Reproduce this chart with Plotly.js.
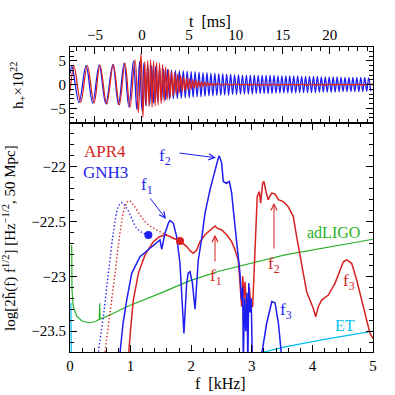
<!DOCTYPE html>
<html><head><meta charset="utf-8">
<script src="https://cdn.plot.ly/plotly-3.0.1.min.js"></script>
<style>html,body{margin:0;padding:0;background:#fff}#plot{width:395px;height:395px}</style>
</head><body><div id="plot"></div>
<script>
// ---- top panel: strain extrema (t in ms, h+ x 1e22) ----
const apr4_t = [-7.66,-7.23,-6.52,-5.82,-5.10,-4.47,-3.76,-3.05,-2.41,-1.81,-1.28,-0.74,-0.39,-0.10,0.10,
 0.30,0.45,0.60,0.76,0.92,1.08,1.24,1.40,1.56,1.72,1.88,2.04,2.20,2.36,2.52,2.68,2.84,3.00,3.16,3.32,3.48,3.64,3.80,3.96,4.12,4.28,4.44,4.60,4.76,4.92,5.08,5.24,5.40,5.56,5.72,5.88,6.04,6.20,6.36,6.52,6.68,6.84,7.00,7.16,7.32,7.48,7.64,7.80,8.00,
 8.5,9.0,9.5,10.0,10.5,11.0,11.5,12.0,12.5,13.0,13.5,14.0,14.5,15.0,15.5,16.0,16.5,17.0,17.5,18.0,18.5,19.0,19.5,20.0,20.5,21.0,21.5,22.0,22.5,23.0,23.5,24.0,24.6];
const apr4_h = [-1.5,3.8,-3.7,4.0,-3.9,4.1,-4.1,4.2,-4.3,4.5,-4.8,5.2,-5.9,6.6,-6.9,
 4.8,-4.5,5.0,-4.6,5.2,-4.8,4.9,-4.5,4.6,-4.3,4.5,-4.0,4.2,-3.6,3.7,-3.2,3.2,-2.8,2.8,-2.4,2.5,-2.1,2.2,-1.8,1.9,-1.5,1.6,-1.3,1.4,-1.1,1.2,-0.9,1.0,-0.8,0.85,-0.6,0.7,-0.5,0.55,-0.4,0.45,-0.3,0.4,-0.25,0.3,-0.2,0.25,-0.15,0.2,
 -0.12,0.12,-0.12,0.12,-0.1,0.1,-0.1,0.1,-0.1,0.1,-0.1,0.1,-0.1,0.1,-0.1,0.1,-0.1,0.1,-0.1,0.1,-0.1,0.1,-0.1,0.1,-0.1,0.1,-0.1,0.1,-0.1,0.1,-0.1,0.1,0.0];
const gnh3_t = [-7.66,-7.45,-6.70,-5.95,-5.25,-4.55,-3.85,-3.10,-2.50,-1.90,-1.40,-0.90,-0.55,-0.25,0.00,
 0.20,0.41,0.62,0.83,1.04,1.25,1.46,1.67,1.88,2.09,2.30,2.51,2.72,2.93,3.14,3.35,3.56,3.77,3.98,4.19,4.40,4.61,4.82,5.03,5.24,5.45,5.66,5.87,6.08,6.29,6.50,6.71,6.92,7.13,7.34,7.55,7.76,7.97,8.18,8.39,8.60,8.81,9.02,9.23,9.44,9.65,9.86,10.07,10.28,10.49,10.70,10.91,11.12,11.33,11.54,11.75,11.96,12.17,12.38,12.59,12.80,13.01,13.22,13.43,13.64,13.85,14.06,14.27,14.48,14.69,14.90,15.11,15.32,15.53,15.74,15.95,16.16,16.37,16.58,16.79,17.00,17.21,17.42,17.63,17.84,18.05,18.26,18.47,18.68,18.89,19.10,19.31,19.52,19.73,19.94,20.15,20.36,20.57,20.78,20.99,21.20,21.41,21.62,21.83,22.04,22.25,22.46,22.67,22.88,23.09,23.30,23.51,23.72,23.93,24.14,24.35,24.56];
const gnh3_h = [2.3,3.8,-3.8,4.0,-3.9,4.1,-4.0,4.2,-4.2,4.5,-4.7,5.0,-5.2,4.8,-5.5,
 4.5,-4.4,4.3,-4.2,4.0,-3.9,3.8,-3.6,3.5,-3.4,3.3,-3.2,3.2,-3.1,3.1,-3.0,3.0,-3.0,2.9,-2.9,2.9,-2.8,2.8,-2.8,2.7,-2.7,2.7,-2.6,2.6,-2.6,2.5,-2.5,2.5,-2.4,2.4,-2.4,2.4,-2.3,2.3,-2.3,2.3,-2.2,2.2,-2.2,2.2,-2.1,2.1,-2.1,2.1,-2.0,2.0,-2.0,2.0,-2.0,2.0,-2.0,2.0,-1.9,1.9,-1.9,1.9,-1.9,1.9,-1.9,1.9,-1.9,1.9,-1.8,1.8,-1.8,1.8,-1.8,1.8,-1.8,1.8,-1.8,1.8,-1.8,1.8,-1.7,1.7,-1.7,1.7,-1.7,1.7,-1.7,1.7,-1.7,1.7,-1.6,1.6,-1.6,1.6,-1.6,1.6,-1.6,1.6,-1.6,1.6,-1.5,1.5,-1.5,1.5,-1.5,1.5,-1.5,1.5,-1.5,1.5,-1.5,1.5,-1.5,1.5,-1.4,1.4,-1.4];

// ---- bottom panel: spectra (f in kHz, log10 amplitude) ----
const gnh3_f = [0.80,0.825,0.875,0.936,1.018,1.155,1.32,1.43,1.485,1.513,1.568,1.623,1.65,1.705,1.76,1.815,1.86,1.88,1.925,1.95,1.98,2.02,2.063,2.117,2.17,2.228,2.31,2.393,2.447,2.464,2.503,2.53,2.58,2.63,2.668,2.695,2.723,2.75,2.777,2.805,2.83,2.85,2.86,2.88,2.90,2.92,2.935,2.95,2.97,2.99,3.01,3.16,3.245,3.33,3.383,3.44,3.49];
const gnh3_s = [-23.9,-23.70,-23.43,-23.216,-22.972,-22.82,-22.743,-22.698,-22.667,-22.752,-22.606,-22.515,-22.49,-22.515,-22.637,-22.88,-23.3,-23.52,-23.063,-22.97,-22.957,-23.06,-23.30,-22.85,-22.667,-22.423,-22.21,-22.027,-21.92,-21.90,-21.966,-22.134,-22.15,-22.134,-22.24,-22.393,-22.546,-22.667,-22.82,-22.972,-23.216,-23.1,-23.8,-23.2,-23.5,-23.15,-23.8,-23.06,-23.33,-23.2,-23.8,-23.72,-23.43,-23.23,-23.24,-23.43,-23.72];
const apr4_f = [0.94,0.963,1.0,1.045,1.128,1.238,1.375,1.47,1.568,1.65,1.705,1.815,1.925,1.99,2.035,2.09,2.145,2.228,2.31,2.393,2.43,2.503,2.585,2.668,2.723,2.777,2.805,2.833,2.85,2.87,2.89,2.91,2.94,2.96,2.98,3.014,3.053,3.09,3.124,3.146,3.179,3.2,3.234,3.27,3.328,3.383,3.438,3.52,3.6,3.685,3.74,3.795,3.85,3.905,3.96,4.015,4.054,4.097,4.153,4.263,4.373,4.455,4.51,4.566,4.648,4.731,4.813,4.896,4.95,5.0];
const apr4_s = [-23.9,-23.70,-23.48,-23.216,-22.972,-22.804,-22.683,-22.64,-22.62,-22.635,-22.652,-22.676,-22.728,-22.77,-22.789,-22.76,-22.683,-22.62,-22.576,-22.54,-22.56,-22.576,-22.62,-22.683,-22.76,-22.85,-23.063,-23.277,-23.0,-23.2,-23.05,-23.3,-23.277,-23.1,-23.25,-23.277,-22.76,-22.27,-22.225,-22.332,-22.149,-22.134,-22.225,-22.30,-22.24,-22.247,-22.30,-22.317,-22.363,-22.454,-22.637,-22.789,-22.972,-23.14,-23.216,-23.292,-23.368,-23.277,-23.216,-23.17,-23.063,-22.94,-22.866,-22.85,-22.88,-23.033,-23.216,-23.40,-23.52,-23.566];
const gnh3_insp_f = [0.45,0.468,0.55,0.633,0.715,0.798,0.853,0.936,1.018,1.10,1.21,1.293];
const gnh3_insp_s = [-23.85,-23.70,-23.368,-22.972,-22.606,-22.363,-22.326,-22.378,-22.469,-22.56,-22.606,-22.622];
const apr4_insp_f = [0.56,0.578,0.66,0.743,0.825,0.908,0.974,1.045,1.155,1.265,1.43,1.595,1.733,1.815];
const apr4_insp_s = [-23.85,-23.70,-23.337,-22.972,-22.606,-22.363,-22.308,-22.347,-22.439,-22.515,-22.576,-22.622,-22.661,-22.676];
const contact_f = [1.293, 1.815];
const contact_s = [-22.622, -22.676];
const ligo_f = [0.028,0.033,0.054,0.110,0.193,0.302,0.413,0.484,0.490,0.496,0.66,0.936,1.485,1.98,2.475,3.246,3.548,5.0];
const ligo_s = [-22.713,-23.124,-23.277,-23.362,-23.405,-23.423,-23.414,-23.392,-23.246,-23.39,-23.353,-23.277,-23.155,-23.039,-22.951,-22.850,-22.804,-22.661];
const et_f = [0.015,0.017,0.03,0.2,1.0,2.0,3.0,3.218,3.548,4.2,5.0];
const et_s = [-23.24,-23.9,-24.5,-24.7,-24.2,-23.95,-23.72,-23.688,-23.643,-23.575,-23.5];

const RED='rgb(214,34,34)', BLUE='rgb(30,30,240)', GREEN='rgb(40,175,40)', CYAN='rgb(0,190,240)';
const FONT='Liberation Serif';

const traces = [
 {x:ligo_f,y:ligo_s,mode:'lines',line:{color:GREEN,width:1.2},xaxis:'x',yaxis:'y'},
 {x:et_f,y:et_s,mode:'lines',line:{color:CYAN,width:1.2},xaxis:'x',yaxis:'y'},
 {x:gnh3_insp_f,y:gnh3_insp_s,mode:'lines',line:{color:BLUE,width:1.4,dash:'1.4px,2.2px',shape:'spline'},xaxis:'x',yaxis:'y'},
 {x:apr4_insp_f,y:apr4_insp_s,mode:'lines',line:{color:RED,width:1.4,dash:'1.4px,2.2px',shape:'spline'},xaxis:'x',yaxis:'y'},
 {x:apr4_f,y:apr4_s,mode:'lines',line:{color:RED,width:1.5},xaxis:'x',yaxis:'y'},
 {x:gnh3_f,y:gnh3_s,mode:'lines',line:{color:BLUE,width:1.5},xaxis:'x',yaxis:'y'},
 {x:[contact_f[0]],y:[contact_s[0]],mode:'markers',marker:{color:BLUE,size:8},xaxis:'x',yaxis:'y'},
 {x:[contact_f[1]],y:[contact_s[1]],mode:'markers',marker:{color:RED,size:8},xaxis:'x',yaxis:'y'},
 {x:gnh3_t,y:gnh3_h,mode:'lines',line:{color:BLUE,width:1.3,shape:'spline'},xaxis:'x2',yaxis:'y2'},
 {x:apr4_t,y:apr4_h,mode:'lines',line:{color:RED,width:1.3,shape:'spline'},xaxis:'x2',yaxis:'y2'}
];

const ax = {showline:true,linecolor:'black',linewidth:1,mirror:'allticks',ticks:'inside',ticklen:7,tickwidth:1,tickcolor:'black',
  showgrid:false,zeroline:false,tickfont:{family:FONT,size:15,color:'black'}};
const D = 0.7508;
const A = (o)=>Object.assign({showarrow:false,xanchor:'center',yanchor:'middle'},o);
const layout = {
 width:395,height:395,margin:{l:70,r:22,t:47,b:43},showlegend:false,paper_bgcolor:'white',plot_bgcolor:'white',
 font:{family:FONT,color:'black'},
 xaxis:Object.assign({},ax,{range:[0,5],dtick:1,tick0:0,anchor:'y',domain:[0,1],minor:{dtick:0.2,ticklen:4,ticks:'inside',tickcolor:'black'}}),
 yaxis:Object.assign({},ax,{range:[-23.69,-21.6],dtick:0.5,tick0:-22,anchor:'x',domain:[0,D],minor:{dtick:0.1,ticklen:4,ticks:'inside',tickcolor:'black'}}),
 xaxis2:Object.assign({},ax,{range:[-7.66,24.6],dtick:5,tick0:0,anchor:'y2',side:'top',domain:[0,1],minor:{dtick:1,ticklen:4,ticks:'inside',tickcolor:'black'}}),
 yaxis2:Object.assign({},ax,{range:[-8.1,7.9],dtick:5,tick0:0,anchor:'x2',domain:[D,1],minor:{dtick:1,ticklen:4,ticks:'inside',tickcolor:'black'}}),
 annotations:[
  A({xref:'paper',yref:'paper',x:0.462,y:1.085,text:'t  [ms]',font:{size:16}}),
  A({xref:'paper',yref:'paper',x:0.498,y:-0.102,text:'f  [kHz]',font:{size:16}}),
  A({xref:'paper',yref:'paper',x:-0.172,y:0.875,text:'h<sub>+</sub>×10<sup>22</sup>',textangle:-90,font:{size:15}}),
  A({xref:'paper',yref:'paper',x:-0.198,y:0.374,text:'log[2h\u0303(f) f<sup>1/2</sup>] [Hz<sup>\u22121/2</sup>, 50 Mpc]',textangle:-90,font:{size:15}}),
  A({x:0.578,y:-21.863,text:'APR4',font:{size:17,color:RED}}),
  A({x:0.578,y:-22.055,text:'GNH3',font:{size:17,color:BLUE}}),
  A({x:1.27,y:-22.174,text:'f<sub>1</sub>',font:{size:17,color:BLUE}}),
  A({x:1.568,y:-21.91,text:'f<sub>2</sub>',font:{size:17,color:BLUE}}),
  A({x:3.564,y:-23.316,text:'f<sub>3</sub>',font:{size:17,color:BLUE}}),
  A({x:2.41,y:-23.005,text:'f<sub>1</sub>',font:{size:17,color:RED}}),
  A({x:3.366,y:-22.896,text:'f<sub>2</sub>',font:{size:17,color:RED}}),
  A({x:4.604,y:-23.05,text:'f<sub>3</sub>',font:{size:17,color:RED}}),
  A({x:4.356,y:-22.603,text:'adLIGO',font:{size:16,color:GREEN}}),
  A({x:4.538,y:-23.444,text:'ET',font:{size:16,color:CYAN}}),
  {x:1.584,y:-22.475,ax:1.304,ay:-22.274,axref:'x',ayref:'y',text:'',showarrow:true,arrowhead:5,arrowsize:1.2,arrowwidth:1,arrowcolor:BLUE},
  {x:2.409,y:-21.918,ax:1.782,ay:-21.872,axref:'x',ayref:'y',text:'',showarrow:true,arrowhead:5,arrowsize:1.2,arrowwidth:1,arrowcolor:BLUE},
  {x:2.393,y:-22.62,ax:2.393,ay:-22.877,axref:'x',ayref:'y',text:'',showarrow:true,arrowhead:5,arrowsize:1.2,arrowwidth:1,arrowcolor:RED},
  {x:3.366,y:-22.33,ax:3.366,ay:-22.76,axref:'x',ayref:'y',text:'',showarrow:true,arrowhead:5,arrowsize:1.2,arrowwidth:1,arrowcolor:RED}
 ]
};
Plotly.newPlot('plot',traces,layout,{staticPlot:true});
</script></body></html>
